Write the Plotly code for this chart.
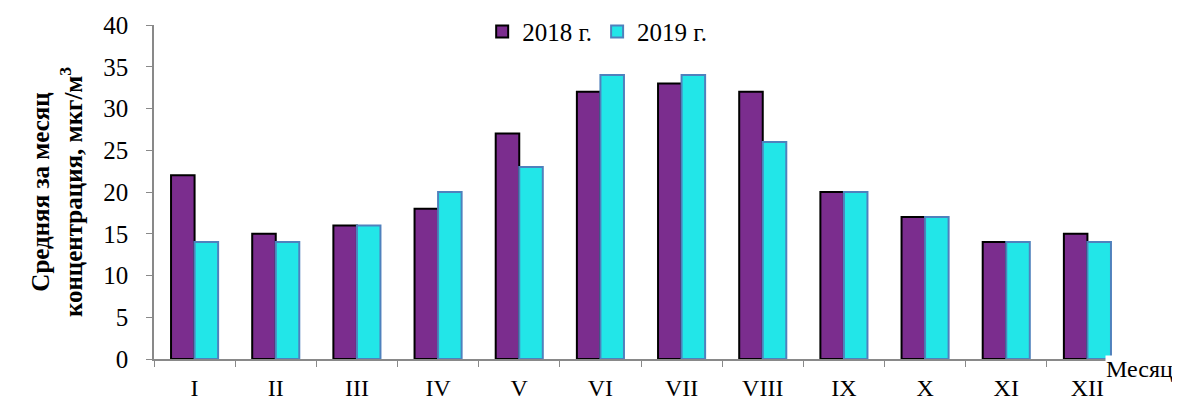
import plotly.graph_objects as go

months = ["I", "II", "III", "IV", "V", "VI", "VII", "VIII", "IX", "X", "XI", "XII"]
v2018 = [22, 15, 16, 18, 27, 32, 33, 32, 20, 17, 14, 15]
v2019 = [14, 14, 16, 20, 23, 34, 34, 26, 20, 17, 14, 14]

font = "Liberation Serif"

fig = go.Figure()
fig.add_trace(go.Bar(x=months, y=v2018, name="2018 г.",
                     marker=dict(color="#7B2D8E", line=dict(color="#000000", width=2))))
fig.add_trace(go.Bar(x=months, y=v2019, name="2019 г.",
                     marker=dict(color="#22E6E8", line=dict(color="#4F81BD", width=2))))

# page has an 8px body margin, so the figure is 8px smaller and margins shifted
fig.update_layout(
    width=1172, height=393,
    margin=dict(l=146, r=52, t=17, b=42, autoexpand=False),
    plot_bgcolor="white", paper_bgcolor="white",
    barmode="group", bargap=0.42, bargroupgap=0,
    font=dict(family=font, size=24, color="black"),
    legend=dict(orientation="h", x=0.455, xanchor="center", y=0.98, yanchor="middle",
                font=dict(size=25, family=font), itemwidth=30, bgcolor="rgba(0,0,0,0)"),
    showlegend=True,
)
fig.update_xaxes(showline=True, linecolor="#898989", linewidth=1.5, ticks="outside",
                 tickson="boundaries", ticklen=6, tickcolor="#898989", showgrid=False,
                 ticklabelstandoff=6,
                 tickfont=dict(size=24, family=font))
fig.update_yaxes(range=[0, 40], dtick=5, showline=True, linecolor="#898989", linewidth=1.5,
                 ticks="outside", ticklen=6, tickcolor="#898989", showgrid=False,
                 zeroline=False, ticklabelstandoff=13, tickfont=dict(size=25, family=font),
                 title=dict(text="<b>Средняя за месяц<br>концентрация, мкг/м<sup>3</sup></b>",
                            font=dict(size=25, family=font), standoff=14))
fig.add_annotation(text="Месяц", xref="paper", yref="paper", x=1.047, y=-0.03,
                   xanchor="right", yanchor="middle", showarrow=False, bgcolor="white",
                   borderpad=0, font=dict(size=24, family=font))

fig.write_html("out.html")
